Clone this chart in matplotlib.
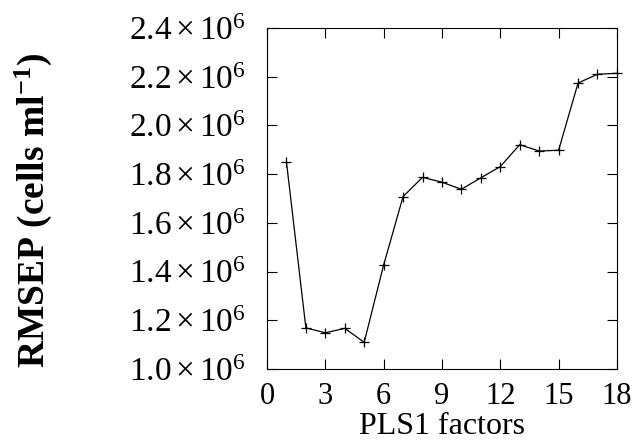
import matplotlib
matplotlib.use("Agg")
import matplotlib.pyplot as plt
from matplotlib.ticker import FixedLocator, FuncFormatter

factors = list(range(1, 19))
rmsep = [1.851e6, 1.169e6, 1.149e6, 1.167e6, 1.110e6, 1.427e6, 1.708e6, 1.787e6,
         1.767e6, 1.738e6, 1.785e6, 1.831e6, 1.921e6, 1.895e6, 1.898e6, 2.174e6,
         2.210e6, 2.214e6]
xticks = [0, 3, 6, 9, 12, 15, 18]
yticks = [1.0e6, 1.2e6, 1.4e6, 1.6e6, 1.8e6, 2.0e6, 2.2e6, 2.4e6]

plt.rcParams['font.family'] = ['Liberation Serif', 'DejaVu Serif']
plt.rcParams['mathtext.fontset'] = 'custom'
plt.rcParams['mathtext.rm'] = 'Liberation Serif'
plt.rcParams['mathtext.it'] = 'Liberation Serif:italic'
plt.rcParams['mathtext.bf'] = 'Liberation Serif:bold'

fig = plt.figure(figsize=(6.36, 4.42), dpi=100)
ax = fig.add_axes([0.4198, 0.165, 0.5502, 0.7717])

ax.plot(factors, rmsep, color='black', lw=0.9, marker='+', ms=7, mew=0.9, clip_on=False)

ax.set_xlim(0, 18)
ax.set_ylim(1.0e6, 2.4e6)
ax.xaxis.set_major_locator(FixedLocator(xticks))
ax.yaxis.set_major_locator(FixedLocator(yticks))

def yfmt(v, pos):
    return r'$\mathregular{%.1f\times10^{6}}$' % (v / 1e6)

ax.yaxis.set_major_formatter(FuncFormatter(yfmt))
ax.tick_params(direction='in', length=7, width=0.8, top=True, right=True)
ax.tick_params(axis='y', pad=15, labelsize=24)
ax.tick_params(axis='x', pad=9, labelsize=22)
for s in ax.spines.values():
    s.set_linewidth(0.8)

ax.set_xlabel('PLS1 factors', fontsize=23, labelpad=1)
ax.set_ylabel(r'RMSEP (cells ml$^{\mathbf{-1}}$)', fontsize=27, fontweight='bold')
ax.yaxis.set_label_coords(-0.61, 0.466)

fig.savefig('out.png', dpi=100)
